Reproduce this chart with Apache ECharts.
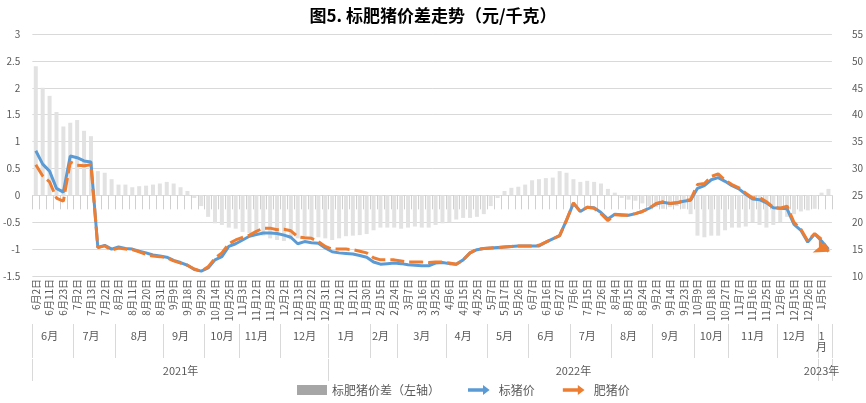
<!DOCTYPE html>
<html><head><meta charset="utf-8">
<script src="https://cdn.jsdelivr.net/npm/echarts@6/dist/echarts.min.js"></script>
<style>html,body{margin:0;padding:0;background:#fff}#c{width:866px;height:403px}</style>
</head><body><div id="c"></div>
<script>
const dates = [
'2021-06-02','2021-06-07','2021-06-11','2021-06-17','2021-06-23','2021-06-28','2021-07-02','2021-07-07','2021-07-13','2021-07-16',
'2021-07-22','2021-07-28','2021-08-02','2021-08-05','2021-08-11','2021-08-16','2021-08-20','2021-08-25','2021-08-31','2021-09-03',
'2021-09-09','2021-09-14','2021-09-18','2021-09-24','2021-09-29','2021-10-11','2021-10-14','2021-10-19','2021-10-25','2021-10-28',
'2021-11-03','2021-11-08','2021-11-12','2021-11-17','2021-11-23','2021-11-26','2021-12-02','2021-12-07','2021-12-13','2021-12-16',
'2021-12-22','2021-12-27','2021-12-31','2022-01-06','2022-01-12','2022-01-17','2022-01-21','2022-01-26','2022-01-30','2022-02-09',
'2022-02-15','2022-02-18','2022-02-24','2022-03-02','2022-03-07','2022-03-10','2022-03-16','2022-03-21','2022-03-25','2022-03-30',
'2022-04-06','2022-04-11','2022-04-15','2022-04-20','2022-04-25','2022-04-29','2022-05-07','2022-05-11','2022-05-17','2022-05-20',
'2022-05-26','2022-05-31','2022-06-07','2022-06-10','2022-06-16','2022-06-21','2022-06-27','2022-06-30','2022-07-06','2022-07-11',
'2022-07-15','2022-07-20','2022-07-26','2022-07-29','2022-08-04','2022-08-09','2022-08-15','2022-08-18','2022-08-24','2022-08-29',
'2022-09-02','2022-09-07','2022-09-14','2022-09-19','2022-09-23','2022-09-28','2022-10-09','2022-10-12','2022-10-18','2022-10-21',
'2022-10-27','2022-11-01','2022-11-07','2022-11-10','2022-11-16','2022-11-21','2022-11-25','2022-11-30','2022-12-06','2022-12-09',
'2022-12-15','2022-12-20','2022-12-26','2022-12-30','2023-01-05','2023-01-10'];
const biaoPrice = [
33.3,30.8,29.5,26.3,25.6,32.3,32.0,31.4,31.2,15.3,15.7,15.0,15.4,15.1,15.0,14.6,14.3,13.9,13.7,13.5,
12.9,12.5,12.0,11.2,10.9,11.5,13.0,13.6,15.5,16.0,16.7,17.4,17.7,18.0,18.0,17.9,17.6,17.2,16.0,16.4,
16.2,16.1,15.2,14.5,14.3,14.2,14.1,13.8,13.5,12.6,12.2,12.3,12.4,12.3,12.1,12.0,11.9,11.9,12.4,12.5,
12.3,12.2,13.0,14.3,14.9,15.1,15.2,15.3,15.4,15.5,15.6,15.6,15.6,15.6,16.3,16.9,17.5,20.4,23.5,22.0,
22.8,22.7,21.8,20.6,21.5,21.4,21.3,21.6,22.0,22.6,23.4,23.7,23.5,23.6,23.9,24.1,26.3,26.8,27.9,28.3,
27.6,26.8,26.2,25.2,24.3,24.2,23.6,22.7,22.6,22.5,19.6,18.5,16.3,17.8,16.5,15.0];
const feiPrice = [
30.7,28.6,27.5,24.5,23.9,31.2,30.6,30.5,30.7,15.3,15.6,14.8,15.2,15.0,14.9,14.5,14.0,13.7,13.6,13.4,
12.8,12.4,12.0,11.3,10.9,11.7,13.3,14.3,16.0,16.7,17.2,17.6,18.3,18.9,18.9,18.6,18.7,18.4,17.3,17.1,
17.0,16.4,15.5,15.0,15.0,15.0,14.9,14.6,14.3,13.4,13.0,13.0,13.0,12.8,12.6,12.6,12.6,12.5,12.6,12.6,
12.4,12.2,13.0,14.3,15.0,15.1,15.2,15.3,15.4,15.5,15.6,15.6,15.6,15.7,16.3,16.9,17.5,20.4,23.6,22.0,
22.8,22.6,21.6,20.3,21.4,21.3,21.3,21.6,22.0,22.6,23.5,23.8,23.5,23.6,24.0,24.2,27.0,27.2,28.5,29.0,
27.8,27.0,26.4,25.4,24.5,24.6,23.8,22.8,22.6,23.0,20.0,18.7,16.5,17.9,16.8,14.5];
const spread = [
2.4,2.0,1.85,1.55,1.28,1.35,1.4,1.2,1.1,0.45,0.42,0.3,0.2,0.2,0.15,0.17,0.18,0.2,0.22,0.25,
0.22,0.15,0.08,-0.05,-0.2,-0.4,-0.52,-0.55,-0.6,-0.62,-0.68,-0.7,-0.72,-0.75,-0.8,-0.83,-0.85,-0.82,-0.8,-0.82,
-0.8,-0.78,-0.8,-0.83,-0.8,-0.76,-0.75,-0.74,-0.72,-0.65,-0.6,-0.6,-0.6,-0.62,-0.6,-0.58,-0.6,-0.6,-0.55,-0.52,
-0.5,-0.45,-0.42,-0.42,-0.4,-0.35,-0.2,-0.05,0.08,0.14,0.16,0.2,0.28,0.3,0.32,0.33,0.45,0.42,0.3,0.25,
0.27,0.25,0.22,0.12,0.05,-0.05,-0.08,-0.1,-0.15,-0.2,-0.22,-0.25,-0.22,-0.2,-0.25,-0.35,-0.75,-0.78,-0.75,-0.75,
-0.65,-0.6,-0.6,-0.58,-0.5,-0.55,-0.6,-0.55,-0.5,-0.4,-0.35,-0.3,-0.28,-0.25,0.05,0.12];
const leftTicks = {min:-1.5, max:3, interval:0.5};
const rightTicks = {min:10, max:55, interval:5};

const mon = dates.map(d => d.slice(0,7));
const yr = dates.map(d => d.slice(0,4));
function runs(keys){ const r=[]; keys.forEach((k,i)=>{ if(i===0||k!==keys[i-1]) r.push({s:i,e:i,k}); else r[r.length-1].e=i; }); return r; }
const monRuns = runs(mon), yrRuns = runs(yr);
const monCenter = {}; monRuns.forEach((r,j)=>{ monCenter[Math.floor((r.s+r.e)/2)] = j; });
const yrCenter = {}; yrRuns.forEach((r,j)=>{ yrCenter[Math.floor((r.s+r.e)/2)] = j; });
const monStart = new Set(monRuns.map(r=>r.s)), yrStart = new Set(yrRuns.map(r=>r.s));
const dayLabel = d => (+d.slice(5,7)) + '月' + (+d.slice(8,10)) + '日';

const chart = echarts.init(document.getElementById('c'));
const gray = '#595959';
const arrowPath = 'path://M0,4 L18,4 L18,0 L26,6 L18,12 L18,8 L0,8 Z';
chart.setOption({
  animation:false,
  textStyle:{fontFamily:'"Noto Sans CJK SC", sans-serif'},
  title:{text:'图5. 标肥猪价差走势（元/千克）', left:'center', top:2, textStyle:{fontSize:17, fontWeight:'bold', color:'#000'}},
  legend:{bottom:2, left:292, itemGap:28, itemWidth:30, itemHeight:10, textStyle:{color:gray, fontSize:12},
    data:[{name:'标肥猪价差（左轴）', icon:'rect', itemStyle:{color:'#a6a6a6'}},{name:'标猪价', icon:arrowPath},{name:'肥猪价', icon:arrowPath}]},
  grid:{left:26, right:28, top:34, bottom:127},
  xAxis:[
    {type:'category', data:dates, boundaryGap:true,
     axisLine:{show:false}, axisTick:{show:true, interval:0, length:14, lineStyle:{color:'#d0d0d0'}},
     axisLabel:{interval:(i)=>i%2===0, rotate:90, fontSize:10, color:gray, margin:3, formatter:dayLabel}},
    {type:'category', data:dates, position:'bottom', offset:48, axisLine:{show:false},
     axisTick:{show:true, length:34, interval:(i)=>monStart.has(i), lineStyle:{color:'#d9d9d9'}},
     axisLabel:{interval:(i)=>monCenter[i]!==undefined, fontSize:11, color:gray, margin:6,
       formatter:(v)=> v.startsWith('2023') ? '1\n月' : (+v.slice(5,7))+'月'}},
    {type:'category', data:dates, position:'bottom', offset:83, axisLine:{show:false},
     axisTick:{show:true, length:22, interval:(i)=>yrStart.has(i), lineStyle:{color:'#d9d9d9'}},
     axisLabel:{interval:(i)=>yrCenter[i]!==undefined, fontSize:11, color:gray, margin:6,
       formatter:(v)=> v.slice(0,4)+'年'}}
  ],
  yAxis:[
    {type:'value', ...leftTicks, position:'left', axisLine:{show:false}, axisTick:{show:false},
     axisLabel:{fontSize:10, color:gray, margin:12}, splitLine:{lineStyle:{color:'#d9d9d9'}}},
    {type:'value', ...rightTicks, position:'right', axisLine:{show:false}, axisTick:{show:false},
     axisLabel:{fontSize:10, color:gray, margin:20}, splitLine:{show:false}}
  ],
  series:[
    {name:'标肥猪价差（左轴）', type:'bar', xAxisIndex:0, yAxisIndex:0, data:spread, barWidth:4,
     itemStyle:{color:'#e2e2e2'}},
    {name:'标猪价', type:'line', xAxisIndex:0, yAxisIndex:1, data:biaoPrice, symbol:'none',
     lineStyle:{width:3, color:'#5b9bd5'}, itemStyle:{color:'#5b9bd5'}, z:3},
    {name:'肥猪价', type:'line', xAxisIndex:0, yAxisIndex:1, data:feiPrice, symbol:'none',
     lineStyle:{width:3, color:'#ed7d31', type:[14,5]}, itemStyle:{color:'#ed7d31'}, z:4,
     markPoint:{symbol:'arrow', symbolSize:[11,14], symbolRotate:-115, label:{show:false},
       itemStyle:{color:'#ed7d31'},
       data:[{coord:[dates.length-1, feiPrice[feiPrice.length-1]]}]}}
  ]
});
</script></body></html>
